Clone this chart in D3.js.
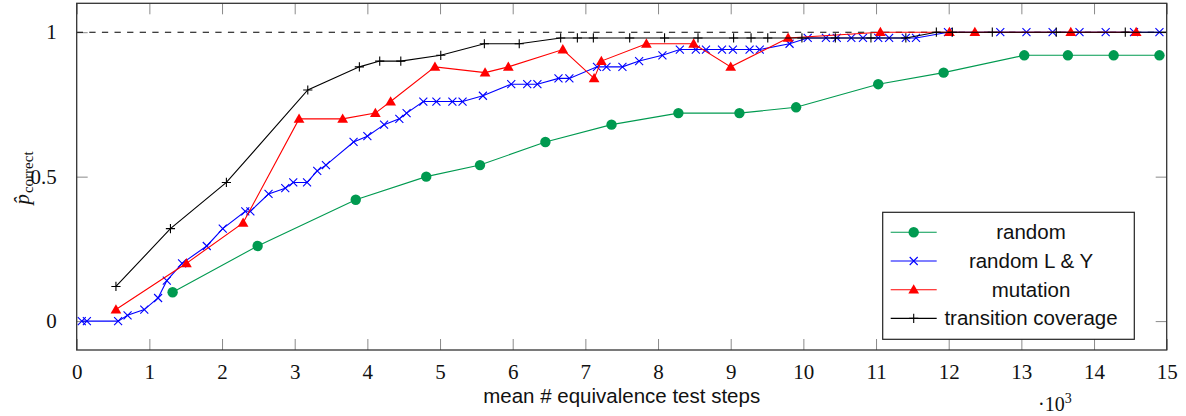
<!DOCTYPE html>
<html>
<head>
<meta charset="utf-8">
<script src="https://cdn.jsdelivr.net/npm/d3@7"></script>
<style>
  html, body { margin: 0; padding: 0; background: #fff; }
  svg { display: block; }
</style>
</head>
<body>
<svg id="chart" width="1186" height="416"></svg>
<script>
// Mean number of equivalence test steps (in thousands) vs. estimated probability of a correct model
const seriesNames = ["random", "random L & Y", "mutation", "transition coverage"];

const randomX = [1.32, 2.49, 3.84, 4.81, 5.55, 6.45, 7.36, 8.28, 9.12, 9.90, 11.03, 11.93, 13.04, 13.64, 14.27, 14.90];
const randomY = [0.10, 0.26, 0.42, 0.50, 0.54, 0.62, 0.68, 0.72, 0.72, 0.74, 0.82, 0.86, 0.92, 0.92, 0.92, 0.92];

const randomLYX = [0.07, 0.14, 0.57, 0.70, 0.93, 1.12, 1.24, 1.45, 1.79, 2.01, 2.32, 2.39, 2.64, 2.87, 2.98, 3.17,
  3.31, 3.43, 3.81, 4.00, 4.23, 4.44, 4.54, 4.77, 4.95, 5.17, 5.31, 5.59, 5.98, 6.20, 6.34, 6.63, 6.78,
  7.16, 7.29, 7.51, 7.74, 8.06, 8.30, 8.52, 8.66, 8.88, 9.03, 9.26, 9.40, 9.81, 10.06, 10.31, 10.46,
  10.66, 10.82, 11.03, 11.18, 11.41, 11.55, 11.99, 12.71, 13.07, 13.43, 13.80, 14.16, 14.55, 14.90];
const randomLYY = [0, 0, 0, 0.02, 0.04, 0.08, 0.14, 0.20, 0.26, 0.32, 0.38, 0.38, 0.44, 0.46, 0.48, 0.48,
  0.52, 0.54, 0.62, 0.64, 0.68, 0.70, 0.72, 0.76, 0.76, 0.76, 0.76, 0.78, 0.82, 0.82, 0.82, 0.84, 0.84,
  0.88, 0.88, 0.88, 0.90, 0.92, 0.94, 0.94, 0.94, 0.94, 0.94, 0.94, 0.94, 0.96, 0.98, 0.98, 0.98,
  0.98, 0.98, 0.98, 0.98, 0.98, 0.98, 1.0, 1.0, 1.0, 1.0, 1.0, 1.0, 1.0, 1.0];

const mutationX = [0.54, 1.51, 2.29, 3.06, 3.66, 4.11, 4.32, 4.93, 5.62, 5.94, 6.69, 7.12, 7.22, 7.84, 8.49, 9.00, 9.79, 11.06, 12.01, 12.36, 13.68, 14.58];
const mutationY = [0.04, 0.20, 0.34, 0.70, 0.70, 0.72, 0.76, 0.88, 0.86, 0.88, 0.94, 0.84, 0.90, 0.96, 0.96, 0.88, 0.98, 1.0, 1.0, 1.0, 1.0, 1.0];

const coverageX = [0.54, 1.29, 2.06, 3.18, 3.89, 4.17, 4.46, 5.01, 5.61, 6.09, 6.66, 6.89, 7.11, 7.61, 8.09, 8.55,
  9.04, 9.28, 9.51, 9.98, 10.44, 10.93, 11.41, 11.83, 12.05, 12.60, 13.48, 14.43, 15.40];
const coverageY = [0.12, 0.32, 0.48, 0.80, 0.88, 0.90, 0.90, 0.92, 0.96, 0.96, 0.98, 0.98, 0.98, 0.98, 0.98, 0.98,
  0.98, 0.98, 0.98, 0.98, 0.98, 0.98, 0.98, 1.0, 1.0, 1.0, 1.0, 1.0, 1.0];

const xTicks = d3.range(0, 16);
const yTicks = [0, 0.5, 1];
const yTickLabels = ["0", "0.5", "1"];
const referenceLevel = 1;

const svg = d3.select("#chart");
const plotLeft = 76.7, plotRight = 1166.7, plotTop = 3.3, plotBottom = 350;

const x = d3.scaleLinear().domain([0, 15]).range([plotLeft, plotRight]);
const y = d3.scaleLinear().domain([-0.1, 1.1]).range([plotBottom, plotTop]);

const serif = "'Liberation Serif', 'DejaVu Serif', serif";
const sans = "'Liberation Sans', Arial, sans-serif";

svg.append("defs").append("clipPath").attr("id", "plot-clip")
  .append("rect").attr("x", plotLeft).attr("y", plotTop)
  .attr("width", plotRight - plotLeft).attr("height", plotBottom - plotTop);

// tick marks on all four sides, pointing inwards
const tickLen = 11;
const tickColor = "#8a8a8a";
const bottomAxis = d3.axisBottom(x).tickValues(xTicks).tickSize(-tickLen).tickPadding(14).tickFormat(d3.format("d"));
const topAxis = d3.axisTop(x).tickValues(xTicks).tickSize(-tickLen).tickFormat("");
const leftAxis = d3.axisLeft(y).tickValues(yTicks).tickSize(-tickLen).tickPadding(20).tickFormat((d, i) => yTickLabels[i]);
const rightAxis = d3.axisRight(y).tickValues(yTicks).tickSize(-tickLen).tickFormat("");

function styleAxis(g) {
  g.attr("font-family", serif).attr("font-size", 21);
  g.select(".domain").remove();
  g.selectAll(".tick line").attr("stroke", tickColor).attr("stroke-width", 1);
  g.selectAll(".tick text").attr("font-family", serif).attr("font-size", 21).attr("fill", "#111");
}

svg.append("g").attr("transform", `translate(0,${plotBottom})`).call(bottomAxis).call(styleAxis);
svg.append("g").attr("transform", `translate(0,${plotTop})`).call(topAxis).call(styleAxis);
svg.append("g").attr("transform", `translate(${plotLeft},0)`).call(leftAxis).call(styleAxis);
svg.append("g").attr("transform", `translate(${plotRight},0)`).call(rightAxis).call(styleAxis);

// dashed reference line at p = 1
svg.append("line")
  .attr("x1", x(0)).attr("x2", x(15))
  .attr("y1", y(referenceLevel)).attr("y2", y(referenceLevel))
  .attr("stroke", "#000").attr("stroke-width", 1.1).attr("stroke-dasharray", "6.3,6.3");

// marker shapes
const markers = {
  circle: (g, color) => g.append("circle").attr("r", 5.2).attr("fill", color),
  cross: (g, color) => g.append("path").attr("d", "M-4,-4L4,4M-4,4L4,-4").attr("stroke", color).attr("stroke-width", 1.1).attr("fill", "none"),
  triangle: (g, color) => g.append("path").attr("d", d3.symbol().type(d3.symbolTriangle).size(50)()).attr("transform", "translate(0,0.8)").attr("fill", color),
  plus: (g, color) => g.append("path").attr("d", "M-4.6,0L4.6,0M0,-4.6L0,4.6").attr("stroke", color).attr("stroke-width", 1.1).attr("fill", "none")
};

const series = [
  { name: seriesNames[0], xs: randomX, ys: randomY, color: "#009a50", marker: "circle" },
  { name: seriesNames[1], xs: randomLYX, ys: randomLYY, color: "#0000ff", marker: "cross" },
  { name: seriesNames[2], xs: mutationX, ys: mutationY, color: "#ff0000", marker: "triangle" },
  { name: seriesNames[3], xs: coverageX, ys: coverageY, color: "#000000", marker: "plus" }
];

const line = d3.line().x(d => x(d[0])).y(d => y(d[1]));
const plot = svg.append("g").attr("clip-path", "url(#plot-clip)");

series.forEach(s => {
  const pts = s.xs.map((v, i) => [v, s.ys[i]]);
  const g = plot.append("g");
  g.append("path").datum(pts).attr("d", line)
    .attr("fill", "none").attr("stroke", s.color).attr("stroke-width", 1.1);
  g.selectAll("g.mk").data(pts).join("g").attr("class", "mk")
    .attr("transform", d => `translate(${x(d[0])},${y(d[1])})`)
    .each(function () { markers[s.marker](d3.select(this), s.color); });
});

// frame
svg.append("rect").attr("x", plotLeft).attr("y", plotTop)
  .attr("width", plotRight - plotLeft).attr("height", plotBottom - plotTop)
  .attr("fill", "none").attr("stroke", "#333").attr("stroke-width", 1.3);

// legend
const lg = svg.append("g");
const lgX = 882.7, lgY = 212.3, lgW = 251.6, lgH = 127;
lg.append("rect").attr("x", lgX).attr("y", lgY).attr("width", lgW).attr("height", lgH)
  .attr("fill", "#fff").attr("stroke", "#222").attr("stroke-width", 1.2);
series.forEach((s, i) => {
  const cy = 232.3 + i * 28.7;
  const row = lg.append("g");
  row.append("line").attr("x1", 890.7).attr("x2", 936.7).attr("y1", cy).attr("y2", cy)
    .attr("stroke", s.color).attr("stroke-width", 1.1);
  const m = row.append("g").attr("transform", `translate(913.7,${cy})`);
  markers[s.marker](m, s.color);
  row.append("text").attr("x", 1031).attr("y", cy + 7)
    .attr("text-anchor", "middle").attr("font-family", sans).attr("font-size", 20.5).attr("fill", "#111")
    .text(s.name);
});

// axis labels
svg.append("text").attr("x", (plotLeft + plotRight) / 2).attr("y", 403)
  .attr("text-anchor", "middle").attr("font-family", sans).attr("font-size", 20.5).attr("fill", "#111")
  .text("mean # equivalence test steps");

const scaleLbl = svg.append("text").attr("x", 1038).attr("y", 411)
  .attr("font-family", serif).attr("font-size", 20).attr("fill", "#111");
scaleLbl.append("tspan").text("\u00b710");
scaleLbl.append("tspan").attr("dy", -8).attr("font-size", 14).text("3");

const yl = svg.append("text").attr("transform", "translate(29,178) rotate(-90)")
  .attr("text-anchor", "middle").attr("font-family", serif).attr("font-size", 21).attr("fill", "#111");
yl.append("tspan").attr("font-style", "italic").text("p\u0302");
yl.append("tspan").attr("dx", 1).attr("dy", 3.5).attr("font-size", 15).text("correct");
</script>
</body>
</html>
